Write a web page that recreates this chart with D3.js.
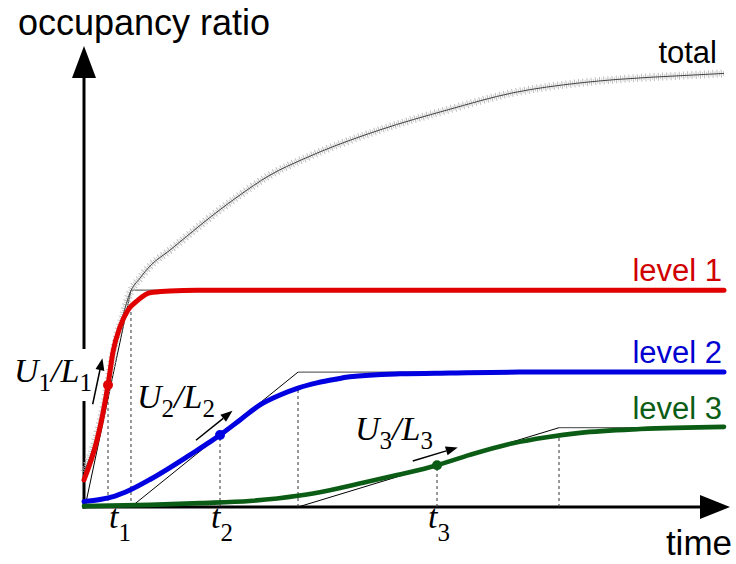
<!DOCTYPE html>
<html><head><meta charset="utf-8">
<script src="https://cdn.jsdelivr.net/npm/d3@7"></script>
<style>html,body{margin:0;padding:0;background:#fff;} svg{display:block;}</style>
</head><body>
<svg id="chart" width="736" height="564"></svg>
<script>
// ---------------- data ----------------
const levelNames = ["level 1", "level 2", "level 3"];
const level1Time  = [0, 2.03, 2.97, 3.75, 4.53, 5.63, 6.88, 8.44, 10.3, 13.4, 17.7, 100];
const level1Ratio = [6.3, 15.5, 21.8, 28.3, 36.0, 41.8, 45.7, 48.0, 49.7, 50.1, 50.3, 50.3];
const level2Time  = [0, 2.5, 4.84, 7.19, 10.31, 13.44, 16.56, 19.69, 21.25, 24.38, 27.5, 30.63, 33.44, 36.41, 39.53, 41.56, 49.4, 57.2, 68.1, 100];
const level2Ratio = [1.28, 1.74, 2.55, 3.94, 6.38, 9.16, 12.1, 15.1, 16.7, 20.2, 23.7, 26.0, 27.6, 28.8, 29.7, 30.2, 30.9, 31.1, 31.3, 31.3];
const level3Time  = [0, 10.3, 18.1, 25.9, 33.4, 38.4, 43.6, 48.9, 55.2, 60.3, 67.0, 72.3, 77.5, 86.9, 100];
const level3Ratio = [0.2, 0.5, 0.9, 1.4, 2.6, 3.9, 5.6, 7.4, 9.7, 12.1, 14.8, 16.2, 17.2, 18.1, 18.6];
const totalTime  = [0, 1.88, 3.13, 4.06, 5.0, 6.09, 7.19, 8.75, 10.31, 13.44, 18.59, 23.91, 29.06, 34.22, 36.88, 46.25, 56.72, 67.03, 77.5, 83.28, 93.59, 100];
const totalRatio = [8.1, 16.0, 23.7, 31.3, 38.7, 44.5, 49.7, 53.1, 55.9, 59.6, 65.9, 71.9, 77.0, 80.7, 82.4, 87.5, 92.1, 96.1, 98.4, 99.2, 100.1, 100.6];
const inflectionTime  = [3.75, 21.25, 55.16];
const inflectionRatio = [28.3, 16.7, 9.7];
const tangentStartTime = [0.16, 7.34, 33.44];
const saturationTime  = [7.34, 33.44, 74.22];
const saturationRatio = [46.5, 27.6, 16.6];
const plateauRatio    = [50.3, 31.3, 18.4];
const timeSubscripts  = ["1", "2", "3"];
const axisLabels = ["occupancy ratio", "time"];
const totalLabel = "total";

// ---------------- drawing ----------------
const svg = d3.select("#chart");
const x = d3.scaleLinear().domain([0, 100]).range([84, 724]);
const y = d3.scaleLinear().domain([0, 100]).range([507, 76]);

const lineColors = ["#e00000", "#0000e0", "#0b5c14"];
const textColors = ["#d00000", "#0000d0", "#0b5c14"];
const lineWidths = [5, 5, 4.6];
const levelSeries = [
  level1Time.map((t, i) => [t, level1Ratio[i]]),
  level2Time.map((t, i) => [t, level2Ratio[i]]),
  level3Time.map((t, i) => [t, level3Ratio[i]])
];
const totalSeries = totalTime.map((t, i) => [t, totalRatio[i]]);
const line = d3.line().x(d => x(d[0])).y(d => y(d[1])).curve(d3.curveMonotoneX);

// axes
const x0 = x(0), y0 = y(0);
const yTip = 46, xTip = 730;
svg.append("line").attr("x1", x0).attr("x2", x0).attr("y1", y0 + 1.5).attr("y2", yTip + 20)
  .attr("stroke", "#000").attr("stroke-width", 3);
svg.append("path").attr("d", `M${x0},${yTip} L${x0 + 12},${yTip + 32} L${x0 - 12},${yTip + 32} Z`).attr("fill", "#000");
svg.append("line").attr("x1", x0 - 1.5).attr("x2", xTip - 20).attr("y1", y0).attr("y2", y0)
  .attr("stroke", "#000").attr("stroke-width", 3);
svg.append("path").attr("d", `M${xTip},${y0} L${xTip - 30},${y0 - 12} L${xTip - 30},${y0 + 12} Z`).attr("fill", "#000");

svg.append("text").attr("x", 18).attr("y", 35).attr("font-family", "Liberation Sans, Arial, sans-serif")
  .attr("font-size", 36).attr("fill", "#000").text(axisLabels[0]);
svg.append("text").attr("x", 732).attr("y", 555).attr("text-anchor", "end").attr("font-family", "Liberation Sans, Arial, sans-serif")
  .attr("font-size", 35).attr("fill", "#000").text(axisLabels[1]);

// slope labels U_i/L_i
const labelOffsets = [[-94, -3], [-83, -27], [-82, -25]];
const serif = "Liberation Serif, Times New Roman, serif";
levelNames.forEach((n, i) => {
  const px = x(inflectionTime[i]) + labelOffsets[i][0];
  const py = y(inflectionRatio[i]) + labelOffsets[i][1];
  const g = svg.append("g");
  const bg = g.append("rect").attr("fill", "#fff");
  const t = g.append("text").attr("x", px).attr("y", py).attr("font-family", serif)
    .attr("font-size", 34).attr("font-style", "italic").attr("fill", "#000");
  t.append("tspan").text("U");
  t.append("tspan").attr("font-size", 25).attr("font-style", "normal").attr("dy", 9).text(timeSubscripts[i]);
  t.append("tspan").attr("dy", -9).text("/L");
  t.append("tspan").attr("font-size", 25).attr("font-style", "normal").attr("dy", 9).text(timeSubscripts[i]);
  if (i === 0) {
    const b = t.node().getBBox();
    bg.attr("x", b.x - 2).attr("y", b.y - 3).attr("width", b.width + 4).attr("height", b.height + 8);
  }
});

// dotted verticals
const dotted = svg.append("g").attr("stroke", "#333").attr("stroke-width", 1).attr("stroke-dasharray", "3,3");
levelNames.forEach((n, i) => {
  dotted.append("line").attr("x1", x(inflectionTime[i])).attr("x2", x(inflectionTime[i]))
    .attr("y1", y0).attr("y2", y(inflectionRatio[i]));
  dotted.append("line").attr("x1", x(saturationTime[i])).attr("x2", x(saturationTime[i]))
    .attr("y1", y0).attr("y2", y(saturationRatio[i]));
});

// tangents and asymptotes
levelNames.forEach((n, i) => {
  svg.append("line").attr("x1", x(tangentStartTime[i])).attr("y1", y(0))
    .attr("x2", x(saturationTime[i])).attr("y2", y(plateauRatio[i]))
    .attr("stroke", "#000").attr("stroke-width", 1);
  svg.append("line").attr("x1", x(saturationTime[i])).attr("y1", y(plateauRatio[i]))
    .attr("x2", x(100)).attr("y2", y(plateauRatio[i]))
    .attr("stroke", "#666").attr("stroke-width", 1.2);
});

// total curve with x markers
svg.append("path").attr("d", line(totalSeries)).attr("fill", "none")
  .attr("stroke", "#bdbdbd").attr("stroke-width", 8).attr("stroke-dasharray", "1,3.2");
svg.append("path").attr("d", line(totalSeries)).attr("fill", "none")
  .attr("stroke", "#c8c8c8").attr("stroke-width", 5).attr("stroke-dasharray", "1,3.2").attr("stroke-dashoffset", 2);
svg.append("path").attr("d", line(totalSeries)).attr("fill", "none")
  .attr("stroke", "#444").attr("stroke-width", 1);

// level curves
levelSeries.forEach((s, i) => {
  svg.append("path").attr("d", line(s)).attr("fill", "none")
    .attr("stroke", lineColors[i]).attr("stroke-width", lineWidths[i]).attr("stroke-linecap", "round");
  svg.append("circle").attr("cx", x(inflectionTime[i])).attr("cy", y(inflectionRatio[i]))
    .attr("r", 5).attr("fill", lineColors[i]);
});

// slope arrows
levelNames.forEach((n, i) => {
  const ax = x(saturationTime[i]) - x(tangentStartTime[i]);
  const ay = y(plateauRatio[i]) - y(0);
  const len = Math.hypot(ax, ay);
  const ux = ax / len, uy = ay / len;
  const px = -uy, py = ux; // perpendicular
  const perp = (py < 0) ? 11 : -11;
  const cx = x(inflectionTime[i]) + px * perp, cy = y(inflectionRatio[i]) + py * perp;
  const sx = cx - ux * 22, sy = cy - uy * 22;
  const ex = cx + ux * 25, ey = cy + uy * 25;
  const bx = ex - ux * 12, by = ey - uy * 12;
  svg.append("line").attr("x1", sx).attr("y1", sy).attr("x2", bx).attr("y2", by)
    .attr("stroke", "#000").attr("stroke-width", 1.5);
  svg.append("path").attr("d", `M${ex},${ey} L${bx + px * 4.5},${by + py * 4.5} L${bx - px * 4.5},${by - py * 4.5} Z`)
    .attr("fill", "#000");
});

// level labels
levelNames.forEach((n, i) => {
  svg.append("text").attr("x", 722).attr("y", y(plateauRatio[i]) - 9).attr("text-anchor", "end")
    .attr("font-family", "Liberation Sans, Arial, sans-serif").attr("font-size", 31)
    .attr("fill", textColors[i]).text(n);
});
svg.append("text").attr("x", 717).attr("y", y(totalRatio[totalRatio.length - 1]) - 10).attr("text-anchor", "end")
  .attr("font-family", "Liberation Sans, Arial, sans-serif").attr("font-size", 31)
  .attr("fill", "#000").text(totalLabel);

// t labels
inflectionTime.forEach((t, i) => {
  const tx = x(t) + (i === 0 ? 1 : -9);
  const tt = svg.append("text").attr("x", tx).attr("y", 528).attr("font-family", serif)
    .attr("font-size", 34).attr("font-style", "italic").attr("fill", "#000");
  tt.append("tspan").text("t");
  tt.append("tspan").attr("font-size", 25).attr("font-style", "normal").attr("dy", 13).text(timeSubscripts[i]);
});
</script>
</body></html>
